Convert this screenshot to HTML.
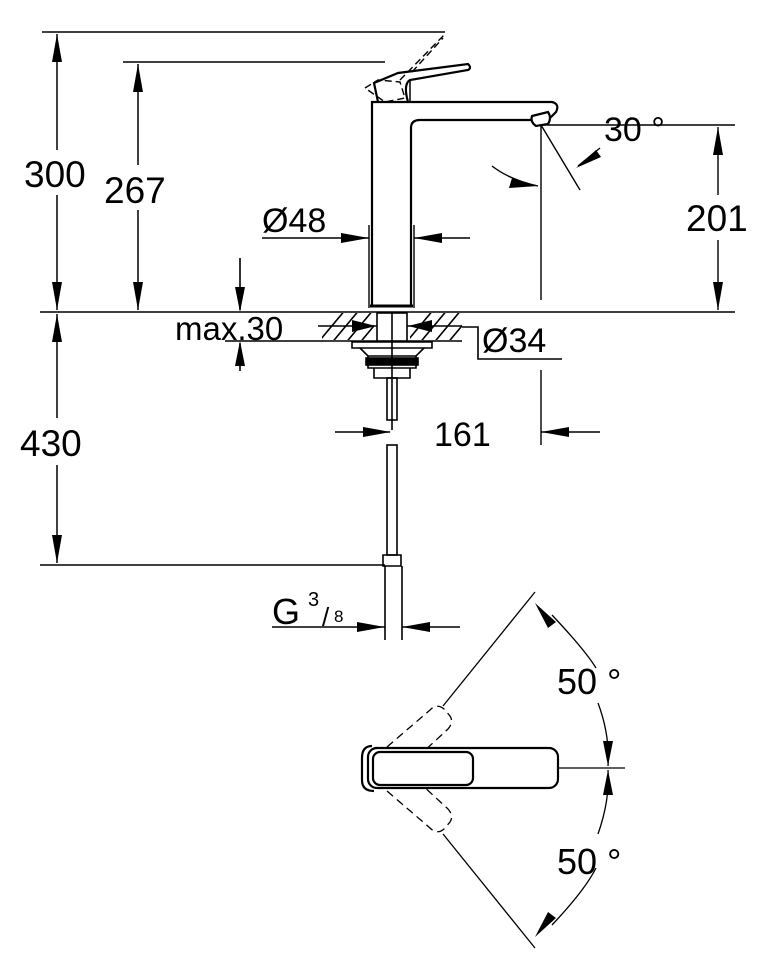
<!DOCTYPE html>
<html><head><meta charset="utf-8"><style>
html,body{margin:0;padding:0;background:#fff;}
svg{display:block;}
text{font-family:"Liberation Sans",sans-serif;fill:#000;}
</style></head><body>
<svg width="761" height="956" viewBox="0 0 761 956" xmlns="http://www.w3.org/2000/svg">
<defs>
<clipPath id="hl"><rect x="322" y="313" width="52" height="27"/></clipPath>
<clipPath id="hr"><rect x="410" y="313" width="52" height="27"/></clipPath>
</defs>
<g stroke="#000" fill="none" stroke-width="1.5">
<line x1="42" y1="32" x2="445" y2="32"/>
<line x1="123" y1="62" x2="385" y2="62"/>
<line x1="40" y1="312" x2="735" y2="312"/>
<line x1="40" y1="565" x2="385" y2="565"/>
<line x1="57" y1="150" x2="57" y2="34"/><line x1="57" y1="195" x2="57" y2="310"/>
<line x1="138" y1="165" x2="138" y2="64"/><line x1="138" y1="210" x2="138" y2="310"/>
<line x1="57" y1="418" x2="57" y2="314"/><line x1="57" y1="465" x2="57" y2="563"/>
</g>
<g fill="#000">
<path d="M57,34 l-5,28 h10z"/><path d="M57,310 l-5,-28 h10z"/>
<path d="M138,64 l-5,28 h10z"/><path d="M138,310 l-5,-28 h10z"/>
<path d="M57,314 l-5,28 h10z"/><path d="M57,563 l-5,-28 h10z"/>
</g>
<text x="24" y="187" font-size="37">300</text>
<text x="104" y="203" font-size="37">267</text>
<text x="20" y="456" font-size="37">430</text>

<g stroke="#000" fill="none" stroke-width="2.2">
<path d="M372,306 V102 H552 Q560,104 556,112 L550,118"/>
<path d="M411,306 V128 Q411,120 420,120 H532"/>
<path d="M532,116 L548,112 Q552,118 548,124 L536,126 Q530,122 532,116Z"/>
<path d="M370,306 H413" stroke-width="3"/>
<path d="M378,102 L374,83 L398,73 L468,64 Q472,68 468,70 L410,80 Q403,84 408,102"/>
</g>
<g stroke="#000" fill="none" stroke-width="1.4" stroke-dasharray="7,4">
<path d="M365,88 L378,80 L400,82 L405,98 L385,102 Z"/>
<path d="M400,80 L445,34"/><path d="M412,72 L443,38"/>
</g>
<line x1="410" y1="102" x2="410" y2="80" stroke="#000" stroke-width="1.5"/>
<g stroke="#000" stroke-width="1.4" fill="none">
<line x1="369" y1="225" x2="369" y2="308"/><line x1="414" y1="225" x2="414" y2="308"/>
<line x1="262" y1="238" x2="369" y2="238"/><line x1="414" y1="238" x2="470" y2="238"/>
</g>
<path d="M369,238 l-28,-5 v10z M414,238 l28,-5 v10z" fill="#000"/>
<text x="262" y="232" font-size="34">Ø48</text>
<g stroke="#000" stroke-width="1.4" fill="none">
<line x1="540" y1="125" x2="735" y2="125"/>
<line x1="541" y1="125" x2="541" y2="300"/>
<line x1="541" y1="125" x2="580" y2="190"/>
<line x1="718" y1="127" x2="718" y2="195"/><line x1="718" y1="240" x2="718" y2="310"/>
<path d="M492,166 Q510,180 538,186"/>
<path d="M600,148 L578,166"/>
</g>
<path d="M718,127 l-5,28 h10z M718,310 l-5,-28 h10z" fill="#000"/>
<path d="M538,186 l-26,-8 l-3,10z" fill="#000"/>
<path d="M576,168 l20,-18 l5,7z" fill="#000"/>
<text x="604" y="141" font-size="34">30 °</text>
<text x="686" y="231" font-size="37">201</text>
<g stroke="#000" stroke-width="1.6" fill="none">
<line x1="322" y1="341" x2="462" y2="341"/>
<line x1="318" y1="326" x2="462" y2="326"/>
<g clip-path="url(#hl)"><path d="M316,345 l30,-36 M330,345 l30,-36 M344,345 l30,-36 M358,345 l30,-36"/></g>
<g clip-path="url(#hr)"><path d="M404,345 l30,-36 M418,345 l30,-36 M432,345 l30,-36 M446,345 l30,-36"/></g>
<path d="M462,327 H478 V359 H562"/>
<rect x="377" y="313" width="30" height="28" fill="#fff"/>
<line x1="392" y1="312" x2="392" y2="430"/>
<path d="M352,342 H432 V348 H352Z"/>
<path d="M360,348 L368,356 H416 L424,348"/>
<path d="M368,356 V368 H416 V356"/>
<rect x="366" y="358" width="52" height="7" fill="#000"/>
<path d="M374,368 V378 H410 V368"/>
<rect x="387" y="378" width="10" height="42"/>
<rect x="387" y="445" width="10" height="110"/>
<path d="M383,555 H401 V566 H383Z"/>
<line x1="385" y1="566" x2="385" y2="640"/><line x1="402" y1="566" x2="402" y2="640"/>
<line x1="240" y1="258" x2="240" y2="310"/><line x1="240" y1="343" x2="240" y2="371"/>
<line x1="225" y1="341" x2="322" y2="341"/>
</g>
<path d="M240,312 l-5,-25 h10z M240,341 l-5,25 h10z" fill="#000"/>
<path d="M376,326 l-24,-6 v12z M408,326 l24,-6 v12z" fill="#000"/>
<text x="175" y="340" font-size="33">max.30</text>
<text x="482" y="352" font-size="34">Ø34</text>
<g stroke="#000" stroke-width="1.4" fill="none">
<line x1="335" y1="432" x2="390" y2="432"/>
<line x1="541" y1="370" x2="541" y2="445"/>
<line x1="541" y1="432" x2="600" y2="432"/>
</g>
<path d="M391,432 l-28,-5 v10z M541,432 l28,-5 v10z" fill="#000"/>
<text x="434" y="446" font-size="34">161</text>
<g stroke="#000" stroke-width="1.4"><line x1="272" y1="627" x2="385" y2="627"/><line x1="402" y1="627" x2="460" y2="627"/></g>
<path d="M385,627 l-28,-5 v10z M402,627 l28,-5 v10z" fill="#000"/>
<text x="272" y="624" font-size="36">G</text>
<text x="308" y="606" font-size="20">3</text>
<text x="322" y="626" font-size="26">/</text>
<text x="334" y="622" font-size="17">8</text>
<g stroke="#000" stroke-width="1.3" fill="none">
<line x1="558" y1="768" x2="625" y2="768"/>
<line x1="443" y1="706" x2="535" y2="592"/>
<line x1="443" y1="834" x2="535" y2="948"/>
<path d="M552,615 Q585,650 596,668"/>
<path d="M598,703 Q610,735 608,766"/>
<path d="M608,770 Q610,800 598,834"/>
<path d="M596,868 Q585,890 552,925"/>
</g>
<path d="M535,603 L556,622 L548,628 Z M608,766 l-5,-25 l10,0z M608,770 l-5,25 l10,0z M535,937 L556,918 L548,912 Z" fill="#000"/>
<g stroke="#000" stroke-width="1.3" fill="none" stroke-dasharray="8,5">
<path d="M387,747 L430,710 Q437,703 444,709 L450,716 Q454,722 448,729 L408,766"/>
<path d="M387,791 L430,828 Q437,835 444,829 L450,822 Q454,816 448,809 L408,772"/>
</g>
<g stroke="#000" stroke-width="2.2" fill="#fff">
<rect x="368" y="748" width="190" height="40" rx="9"/>
<rect x="373" y="752" width="100" height="33" rx="7"/>
<path d="M372,746 Q362,746 362,758 V780 Q362,791 374,791" fill="none"/>
</g>
<text x="557" y="694" font-size="36">50 °</text>
<text x="557" y="874" font-size="36">50 °</text>
</svg>
</body></html>
